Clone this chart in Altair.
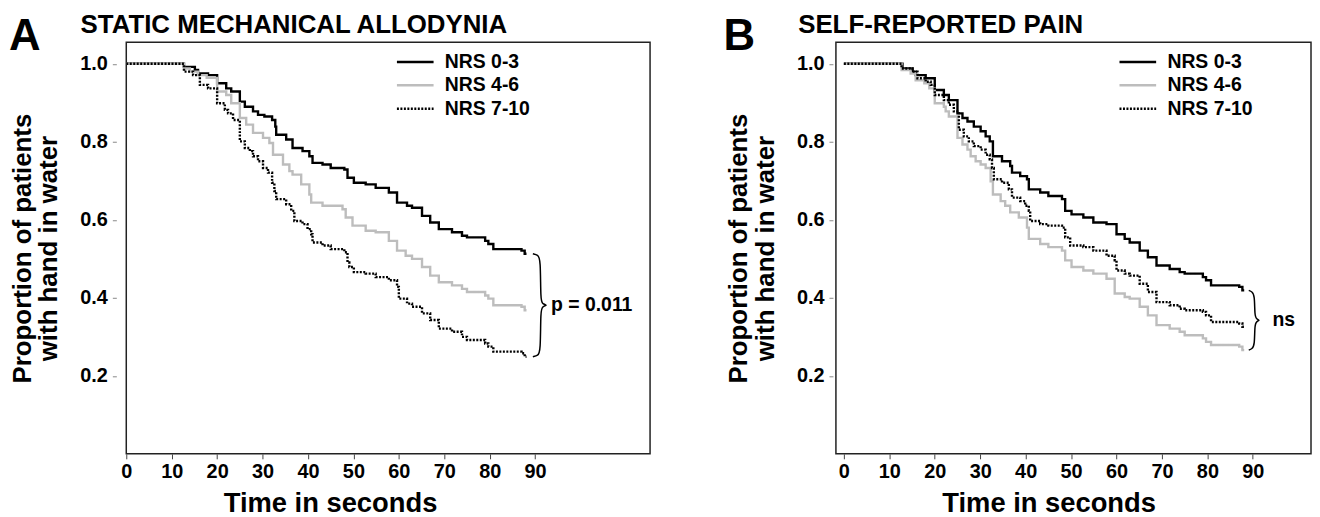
import altair as alt
import pandas as pd

FONT = "Liberation Sans, Arial, Helvetica, sans-serif"

groups = ["NRS 0-3", "NRS 4-6", "NRS 7-10"]
colors = ["#000000", "#bdbdbd", "#000000"]
dashes = [[1, 0], [1, 0], [2, 1.5]]

x_ticks = [0, 10, 20, 30, 40, 50, 60, 70, 80, 90]
y_ticks = [0.2, 0.4, 0.6, 0.8, 1.0]

# ---------- Panel A: static mechanical allodynia ----------
a_t_03 = [0, 12.7, 15.1, 15.8, 18.0, 20.0, 22.0, 23.1, 25.0, 26.1, 27.9, 29.0, 30.4, 32.1, 32.8,
          33.0, 35.2, 36.6, 38.8, 40.3, 41.0, 43.2, 45.0, 48.0, 48.7, 50.1, 52.7, 54.9, 57.8, 59.6,
          61.8, 62.9, 65.1, 66.9, 68.8, 71.7, 73.9, 75.0, 79.0, 79.7, 80.8, 87.0, 87.7, 88.1]
a_s_03 = [1.0, 0.992, 0.984, 0.975, 0.971, 0.950, 0.937, 0.929, 0.903, 0.890, 0.878, 0.869, 0.865,
          0.856, 0.839, 0.818, 0.806, 0.784, 0.776, 0.763, 0.746, 0.742, 0.733, 0.729, 0.708, 0.695,
          0.691, 0.682, 0.670, 0.644, 0.636, 0.631, 0.610, 0.593, 0.576, 0.568, 0.559, 0.555, 0.546,
          0.538, 0.525, 0.521, 0.513, 0.513]

a_t_46 = [0, 12.7, 14.0, 15.8, 17.7, 20.0, 22.0, 23.1, 25.0, 26.4, 27.9, 30.1, 31.5, 32.3, 34.5,
          35.9, 36.6, 38.5, 40.3, 40.7, 43.2, 47.6, 48.3, 49.8, 52.7, 54.9, 57.8, 59.6, 61.5, 62.9,
          65.1, 66.9, 68.8, 71.7, 73.9, 75.0, 79.0, 79.7, 80.8, 87.0, 87.7, 88.1]
a_s_46 = [1.0, 0.988, 0.980, 0.971, 0.964, 0.929, 0.920, 0.899, 0.861, 0.844, 0.823, 0.810, 0.797,
          0.767, 0.742, 0.725, 0.716, 0.691, 0.665, 0.644, 0.636, 0.627, 0.606, 0.585, 0.572, 0.568,
          0.546, 0.521, 0.508, 0.500, 0.479, 0.457, 0.440, 0.432, 0.423, 0.415, 0.406, 0.398, 0.381,
          0.377, 0.368, 0.368]

a_t_710 = [0, 12.7, 14.7, 16.2, 18.0, 20.0, 21.7, 22.4, 23.5, 25.0, 26.1, 27.2, 27.9, 29.0, 30.1,
           31.2, 32.1, 32.6, 33.0, 35.2, 36.3, 37.0, 38.8, 39.9, 40.7, 41.0, 43.2, 45.0, 48.0, 48.7,
           49.1, 50.1, 52.7, 54.9, 57.8, 59.6, 60.0, 61.8, 62.9, 65.1, 66.9, 68.8, 71.7, 73.9, 75.0,
           79.0, 79.7, 80.8, 87.0, 87.7, 88.1]
a_s_710 = [1.0, 0.980, 0.971, 0.946, 0.937, 0.899, 0.882, 0.873, 0.856, 0.801, 0.784, 0.776, 0.763,
           0.750, 0.733, 0.721, 0.695, 0.674, 0.653, 0.640, 0.623, 0.597, 0.589, 0.576, 0.563, 0.542,
           0.534, 0.525, 0.517, 0.491, 0.479, 0.466, 0.462, 0.453, 0.445, 0.428, 0.398, 0.385, 0.377,
           0.360, 0.343, 0.321, 0.313, 0.300, 0.292, 0.283, 0.275, 0.262, 0.258, 0.249, 0.249]

# ---------- Panel B: self-reported pain ----------
b_t_03 = [0, 12.9, 15.1, 15.8, 18.0, 20.0, 22.0, 23.1, 25.0, 26.1, 27.2, 28.6, 30.1, 31.2, 32.1,
          32.8, 34.8, 36.6, 37.0, 38.8, 40.3, 40.7, 43.2, 45.0, 48.0, 48.7, 50.1, 52.7, 54.9, 57.8,
          60.0, 61.8, 62.9, 65.1, 66.9, 68.8, 71.7, 73.9, 75.0, 79.0, 79.7, 80.8, 87.0, 87.7, 88.1]
b_s_03 = [1.0, 0.988, 0.980, 0.971, 0.963, 0.933, 0.920, 0.907, 0.873, 0.861, 0.852, 0.839, 0.827,
          0.814, 0.801, 0.763, 0.750, 0.738, 0.721, 0.712, 0.704, 0.678, 0.670, 0.661, 0.653, 0.623,
          0.614, 0.606, 0.593, 0.589, 0.563, 0.551, 0.542, 0.521, 0.504, 0.483, 0.474, 0.466, 0.462,
          0.453, 0.445, 0.432, 0.428, 0.419, 0.419]

b_t_46 = [0, 12.7, 14.7, 15.8, 17.7, 18.8, 20.0, 22.0, 22.4, 23.1, 25.0, 26.1, 27.2, 27.9, 29.0,
          30.1, 31.2, 32.3, 32.8, 34.5, 35.5, 36.6, 38.5, 40.3, 40.7, 43.2, 45.0, 48.0, 48.7, 50.1,
          52.7, 54.9, 57.8, 59.6, 61.8, 62.9, 65.1, 66.9, 68.8, 71.7, 73.9, 75.0, 79.0, 79.7, 80.8,
          87.0, 87.7, 88.1]
b_s_46 = [1.0, 0.984, 0.975, 0.958, 0.950, 0.937, 0.899, 0.890, 0.878, 0.865, 0.810, 0.793, 0.780,
          0.763, 0.750, 0.742, 0.733, 0.699, 0.665, 0.648, 0.636, 0.619, 0.606, 0.580, 0.551, 0.538,
          0.530, 0.521, 0.496, 0.479, 0.470, 0.462, 0.449, 0.411, 0.402, 0.398, 0.377, 0.355, 0.330,
          0.321, 0.313, 0.304, 0.296, 0.287, 0.279, 0.275, 0.266, 0.266]

b_t_710 = [0, 12.7, 15.1, 16.2, 18.0, 19.1, 20.0, 22.0, 23.1, 24.2, 25.3, 26.4, 27.5, 28.6, 30.1,
           31.2, 32.1, 32.6, 33.0, 34.8, 36.3, 37.0, 38.8, 39.9, 40.7, 41.0, 43.2, 45.0, 48.0, 48.7,
           49.8, 52.7, 54.9, 57.8, 59.6, 60.0, 61.8, 62.9, 65.1, 66.9, 68.8, 71.7, 73.9, 75.0, 79.0,
           79.7, 80.8, 87.0, 87.7, 88.1]
b_s_710 = [1.0, 0.988, 0.980, 0.963, 0.954, 0.946, 0.920, 0.907, 0.895, 0.878, 0.831, 0.814, 0.801,
           0.789, 0.780, 0.767, 0.755, 0.733, 0.704, 0.695, 0.678, 0.657, 0.648, 0.636, 0.623, 0.597,
           0.589, 0.585, 0.580, 0.555, 0.534, 0.530, 0.521, 0.508, 0.496, 0.470, 0.462, 0.457, 0.436,
           0.415, 0.389, 0.381, 0.372, 0.368, 0.364, 0.355, 0.338, 0.334, 0.326, 0.326]

a_title = "STATIC MECHANICAL ALLODYNIA"
b_title = "SELF-REPORTED PAIN"
a_note = "p = 0.011"
b_note = "ns"
y_title = ["Proportion of patients", "with hand in water"]
x_title = "Time in seconds"


def panel(letter, title, curves, x_domain, width, y_offset, title_x, letter_x, legend_x,
          note, brace_x, note_x, xtitle_x):
    rows = []
    for g, (ts, ss) in zip(groups, curves):
        for t, s in zip(ts, ss):
            rows.append({"t": t, "s": s, "group": g})
    df = pd.DataFrame(rows)

    xs = alt.Scale(domain=x_domain, nice=False, zero=False)
    ys = alt.Scale(domain=[0, 1.055], nice=False, zero=False)

    leg = alt.Legend(orient="none", legendX=legend_x, legendY=10, title=None,
                     symbolType="M-4,0H4", symbolSize=85, symbolStrokeWidth=2.5,
                     labelFont=FONT, labelFontSize=19.5, labelFontWeight="bold",
                     labelColor="black", labelOffset=20, rowPadding=2.5, padding=0)

    lines = alt.Chart(df).mark_line(interpolate="step-after", strokeWidth=2.4).encode(
        x=alt.X("t:Q", scale=xs, axis=alt.Axis(
            values=x_ticks, title=x_title, grid=False, domain=False,
            labelFont=FONT, labelFontSize=20, labelFontWeight="bold", labelColor="black",
            titleFont=FONT, titleFontSize=27.5, titleFontWeight="bold", titleColor="black",
            titleX=xtitle_x, titleAlign="center",
            tickSize=5, tickColor="#444", labelPadding=3, titlePadding=8, labelFlush=False)),
        y=alt.Y("s:Q", scale=ys, axis=alt.Axis(
            values=y_ticks, format=".1f", title=y_title, grid=False, domain=False,
            offset=y_offset, tickSize=4, tickColor="#888",
            labelFont=FONT, labelFontSize=20, labelFontWeight="bold", labelColor="black",
            titleFont=FONT, titleFontSize=26, titleFontWeight="bold", titleColor="black",
            titleLineHeight=27, labelPadding=5, titlePadding=18)),
        color=alt.Color("group:N", scale=alt.Scale(domain=groups, range=colors), legend=leg),
        strokeDash=alt.StrokeDash("group:N", scale=alt.Scale(domain=groups, range=dashes), legend=leg),
    )

    # brace joining the final values of the three curves
    ends = [ss[-1] for _, ss in curves]
    top, bot = max(ends), min(ends)
    mid = (top + bot) / 2
    xh, xv, xt = brace_x
    r = 0.012
    bx = [xh, xv - 0.6, xv, xv, xv + 0.4, xt, xv + 0.4, xv, xv, xv - 0.6, xh]
    by = [top, top - 0.003, top - r, mid + r, mid + 0.003, mid, mid - 0.003, mid - r, bot + r,
          bot + 0.003, bot]
    brace_df = pd.DataFrame({"t": bx, "s": by, "o": list(range(len(bx)))})
    brace = alt.Chart(brace_df).mark_line(color="black", strokeWidth=1.5, interpolate="basis").encode(
        x=alt.X("t:Q", scale=xs), y=alt.Y("s:Q", scale=ys), order="o:Q")

    note_df = pd.DataFrame({"t": [note_x], "s": [mid], "label": [note]})
    note_mark = alt.Chart(note_df).mark_text(
        align="left", baseline="middle", font=FONT, fontSize=19.5, fontWeight="bold", color="black"
    ).encode(x=alt.X("t:Q", scale=xs), y=alt.Y("s:Q", scale=ys), text="label:N")

    # panel letter and panel heading
    letter_df = pd.DataFrame({"label": [letter]})
    letter_mark = alt.Chart(letter_df).mark_text(
        align="left", baseline="alphabetic", font=FONT, fontSize=44, fontWeight="bold", color="black"
    ).encode(x=alt.value(letter_x), y=alt.value(8), text="label:N")

    head_df = pd.DataFrame({"label": [title]})
    head_mark = alt.Chart(head_df).mark_text(
        align="left", baseline="alphabetic", font=FONT, fontSize=26, fontWeight="bold", color="black"
    ).encode(x=alt.value(title_x), y=alt.value(-9), text="label:N")

    return alt.layer(lines, brace, note_mark, letter_mark, head_mark).properties(
        width=width, height=414)


pA = panel("A", a_title, [(a_t_03, a_s_03), (a_t_46, a_s_46), (a_t_710, a_s_710)],
           [0, 115.3], 527, 10, -46, -118, 281, a_note, (89.5, 91.2, 92.8), 93.5, 205)
pB = panel("B", b_title, [(b_t_03, b_s_03), (b_t_46, b_s_46), (b_t_710, b_s_710)],
           [-1.75, 102.8], 478, 3, -38, -113, 294, b_note, (89.1, 90.4, 91.6), 94.3, 214)

chart = alt.hconcat(pA, pB, spacing=72).resolve_scale(
    color="independent", strokeDash="independent"
).resolve_legend(color="independent", strokeDash="independent").configure_view(
    stroke="#222", strokeWidth=1.5
).properties(padding={"left": 0, "top": 2, "right": 0, "bottom": 0})

chart.save("out.html", embed_options={"renderer": "svg", "actions": False})
